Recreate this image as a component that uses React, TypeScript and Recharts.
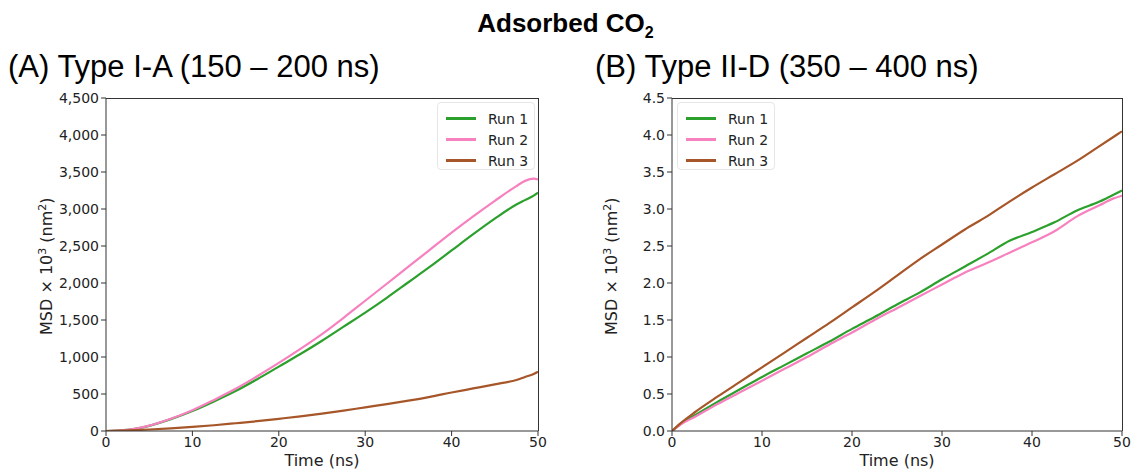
import React from "react";
import { LineChart, Line, XAxis, YAxis } from "recharts";

// Panel A: Type I-A (150 – 200 ns), MSD in nm² (×10³)
const timeA = [0, 2.5, 5, 7.5, 10, 12.5, 15, 17.5, 20, 22.5, 25, 27.5, 30, 32.5, 35, 37.5, 40, 42.5, 45, 47.5, 48.5, 49.5, 50];
const run1A = [0, 15, 70, 160, 270, 400, 540, 700, 870, 1040, 1220, 1410, 1600, 1800, 2010, 2220, 2440, 2660, 2870, 3060, 3120, 3180, 3220];
const run2A = [0, 15, 72, 165, 280, 420, 570, 740, 920, 1110, 1310, 1530, 1760, 1990, 2220, 2450, 2680, 2900, 3110, 3310, 3380, 3410, 3400];
const run3A = [0, 8, 20, 35, 55, 78, 105, 133, 165, 198, 235, 275, 320, 363, 410, 462, 520, 575, 630, 690, 730, 770, 800];

// Panel B: Type II-D (350 – 400 ns)
const timeB = [0, 1, 2.5, 5, 7.5, 10, 12.5, 15, 17.5, 20, 22.5, 25, 27.5, 30, 32.5, 35, 37.5, 40, 42.5, 45, 47.5, 49, 50];
const run1B = [0, 0.1, 0.21, 0.39, 0.56, 0.73, 0.89, 1.05, 1.21, 1.38, 1.54, 1.71, 1.87, 2.05, 2.22, 2.39, 2.57, 2.69, 2.82, 2.98, 3.1, 3.19, 3.25];
const run2B = [0, 0.09, 0.19, 0.36, 0.52, 0.68, 0.84, 1.0, 1.17, 1.33, 1.5, 1.66, 1.82, 1.98, 2.14, 2.27, 2.41, 2.55, 2.7, 2.9, 3.05, 3.14, 3.18];
const run3B = [0, 0.11, 0.25, 0.46, 0.66, 0.86, 1.06, 1.26, 1.46, 1.67, 1.88, 2.1, 2.32, 2.52, 2.72, 2.9, 3.1, 3.29, 3.47, 3.65, 3.85, 3.97, 4.05];

const seriesNames = ["Run 1", "Run 2", "Run 3"];
const seriesColors = ["#2ca02c", "#f781bf", "#a65628"];

const xTicks = [0, 10, 20, 30, 40, 50];
const yTicksA = [0, 500, 1000, 1500, 2000, 2500, 3000, 3500, 4000, 4500];
const yTicksB = [0, 0.5, 1, 1.5, 2, 2.5, 3, 3.5, 4, 4.5];

const tickFont = { fontFamily: "DejaVu Sans", fontSize: 14, fill: "#222" };
const titleFont = "Liberation Sans, Arial, Helvetica, sans-serif";

const PLOT_TOP = 98;
const PLOT_H = 333;

function build(time: number[], runs: number[][]) {
  return time.map((t, i) => ({
    t,
    r1: runs[0][i],
    r2: runs[1][i],
    r3: runs[2][i],
  }));
}

const dataA = build(timeA, [run1A, run2A, run3A]);
const dataB = build(timeB, [run1B, run2B, run3B]);

function LegendBox({ left }: { left: number }) {
  return (
    <div
      style={{
        position: "absolute",
        left,
        top: 102,
        width: 98,
        height: 68,
        boxSizing: "border-box",
        background: "rgba(255,255,255,0.85)",
        border: "1px solid #e6e6e6",
        borderRadius: 4,
        padding: "5px 0 0 8px",
        fontFamily: "DejaVu Sans",
        fontSize: 14,
        color: "#222",
      }}
    >
      {seriesNames.map((n, i) => (
        <div key={n} style={{ display: "flex", alignItems: "center", height: 21 }}>
          <span style={{ display: "inline-block", width: 30, height: 2.5, background: seriesColors[i], marginRight: 12 }} />
          {n}
        </div>
      ))}
    </div>
  );
}

type PanelProps = {
  left: number;
  plotWidth: number;
  data: any[];
  yMax: number;
  yTicks: number[];
  fmt: (v: number) => string;
};

function Panel({ left, plotWidth, data, yMax, yTicks, fmt }: PanelProps) {
  const yAxisWidth = 60;
  const xAxisHeight = 30;
  return (
    <div style={{ position: "absolute", left: left - yAxisWidth, top: PLOT_TOP - 10 }}>
      <LineChart
        width={yAxisWidth + plotWidth + 12}
        height={PLOT_H + 10 + xAxisHeight}
        data={data}
        margin={{ top: 10, right: 12, bottom: 0, left: 0 }}
      >
        <XAxis
          dataKey="t"
          type="number"
          domain={[0, 50]}
          ticks={xTicks}
          allowDataOverflow
          tick={tickFont}
          tickSize={5}
          tickMargin={1}
          height={xAxisHeight}
          stroke="#333"
        />
        <YAxis
          type="number"
          domain={[0, yMax]}
          ticks={yTicks}
          allowDataOverflow
          tickFormatter={fmt}
          tick={tickFont}
          tickSize={5}
          tickMargin={2}
          width={yAxisWidth}
          stroke="#333"
        />
        {["r1", "r2", "r3"].map((k, i) => (
          <Line
            key={k}
            dataKey={k}
            name={seriesNames[i]}
            type="monotone"
            stroke={seriesColors[i]}
            strokeWidth={2.2}
            dot={false}
            isAnimationActive={false}
          />
        ))}
      </LineChart>
      <div
        style={{
          position: "absolute",
          left: yAxisWidth,
          top: 10,
          width: plotWidth + 1,
          height: PLOT_H,
          borderTop: "1px solid #333",
          borderRight: "1px solid #333",
          boxSizing: "border-box",
          pointerEvents: "none",
        }}
      />
    </div>
  );
}

function YLabel({ x }: { x: number }) {
  return (
    <div
      style={{
        position: "absolute",
        left: x - 100,
        top: 264 - 10,
        width: 200,
        textAlign: "center",
        transform: "rotate(-90deg)",
        fontFamily: "DejaVu Sans",
        fontSize: 16,
        color: "#222",
        whiteSpace: "nowrap",
        lineHeight: "20px",
      }}
    >
      MSD × 10<sup style={{ fontSize: 11 }}>3</sup> (nm<sup style={{ fontSize: 11 }}>2</sup>)
    </div>
  );
}

function XLabel({ cx }: { cx: number }) {
  return (
    <div
      style={{
        position: "absolute",
        left: cx - 100,
        top: 451,
        width: 200,
        textAlign: "center",
        fontFamily: "DejaVu Sans",
        fontSize: 16,
        color: "#222",
        lineHeight: "20px",
      }}
    >
      Time (ns)
    </div>
  );
}

export default function App() {
  const fmtA = (v: number) => v.toLocaleString("en-US");
  const fmtB = (v: number) => v.toFixed(1);
  return (
    <div style={{ position: "absolute", left: 0, top: 0, width: 1131, height: 472, background: "#fff", overflow: "hidden" }}>
      <div
        style={{
          position: "absolute",
          left: 0,
          top: 8,
          width: 1131,
          textAlign: "center",
          fontFamily: titleFont,
          fontWeight: "bold",
          fontSize: 26,
          color: "#000",
        }}
      >
        Adsorbed CO<sub style={{ fontSize: 16 }}>2</sub>
      </div>
      <div style={{ position: "absolute", left: 8, top: 49, fontFamily: titleFont, fontSize: 31, color: "#000" }}>
        (A) Type I-A (150 – 200 ns)
      </div>
      <div style={{ position: "absolute", left: 595, top: 49, fontFamily: titleFont, fontSize: 31, color: "#000" }}>
        (B) Type II-D (350 – 400 ns)
      </div>
      <Panel left={106} plotWidth={432} data={dataA} yMax={4500} yTicks={yTicksA} fmt={fmtA} />
      <Panel left={672} plotWidth={450} data={dataB} yMax={4.5} yTicks={yTicksB} fmt={fmtB} />
      <LegendBox left={437} />
      <LegendBox left={677} />
      <YLabel x={45} />
      <YLabel x={610} />
      <XLabel cx={322} />
      <XLabel cx={897} />
    </div>
  );
}
